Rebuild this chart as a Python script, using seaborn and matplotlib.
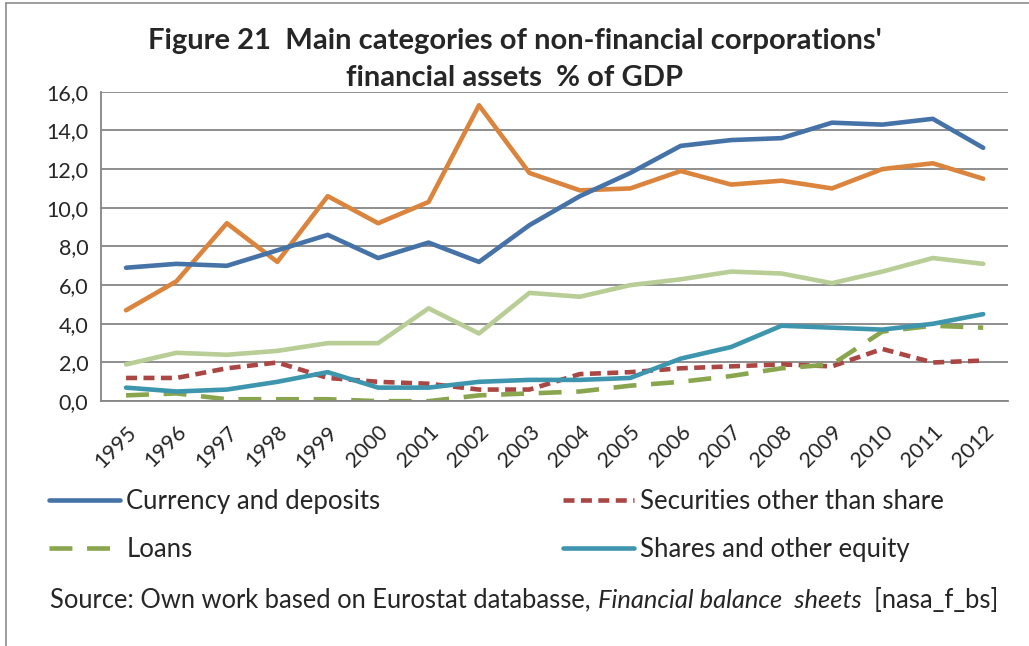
import numpy as np
import pandas as pd
import matplotlib
matplotlib.use("Agg")
import matplotlib.pyplot as plt
from matplotlib.lines import Line2D
import seaborn as sns

### values (% of GDP)
years = [str(y) for y in range(1995, 2013)]
currency = [6.9, 7.1, 7.0, 7.8, 8.6, 7.4, 8.2, 7.2, 9.1, 10.6, 11.8, 13.2, 13.5, 13.6, 14.4, 14.3, 14.6, 13.1]
other_orange = [4.7, 6.2, 9.2, 7.2, 10.6, 9.2, 10.3, 15.3, 11.8, 10.9, 11.0, 11.9, 11.2, 11.4, 11.0, 12.0, 12.3, 11.5]
other_green = [1.9, 2.5, 2.4, 2.6, 3.0, 3.0, 4.8, 3.5, 5.6, 5.4, 6.0, 6.3, 6.7, 6.6, 6.1, 6.7, 7.4, 7.1]
securities = [1.2, 1.2, 1.7, 2.0, 1.2, 1.0, 0.9, 0.6, 0.6, 1.4, 1.5, 1.7, 1.8, 1.9, 1.8, 2.7, 2.0, 2.1]
loans = [0.3, 0.4, 0.1, 0.1, 0.1, 0.0, 0.0, 0.3, 0.4, 0.5, 0.8, 1.0, 1.3, 1.7, 1.9, 3.6, 3.9, 3.8]
shares = [0.7, 0.5, 0.6, 1.0, 1.5, 0.7, 0.7, 1.0, 1.1, 1.1, 1.2, 2.2, 2.8, 3.9, 3.8, 3.7, 4.0, 4.5]

FONT = "Lato"

sns.set_style("white")
plt.rcParams['font.family'] = [FONT, 'DejaVu Sans']

fig = plt.figure(figsize=(10.29, 6.46), dpi=100)
ax = fig.add_axes([0.098, 0.379, 0.882, 0.479])

pos = np.arange(len(years))
series = [
    (other_orange, '#DB843D', '-', None),
    (other_green, '#B9CD96', '-', None),
    (currency, '#4572A7', '-', 'Currency and deposits'),
    (securities, '#AA4643', (0, (2.4, 1.4)), 'Securities other than share'),
    (loans, '#89A54E', (0, (5, 3.2)), 'Loans'),
    (shares, '#3D96AE', '-', 'Shares and other equity'),
]
handles = {}
for vals, col, ls, lab in series:
    df = pd.DataFrame({'x': pos, 'y': vals})
    sns.lineplot(data=df, x='x', y='y', ax=ax, color=col, linewidth=3.3,
                 linestyle=ls, legend=False)
    if lab:
        handles[lab] = Line2D([], [], color=col, linewidth=3.3, linestyle=ls)

ax.set_xlim(-0.5, len(years) - 0.5)
ax.set_ylim(0, 16)
ax.set_yticks(np.arange(0, 16.1, 2))
ax.set_yticklabels([f"{v:.1f}".replace('.', ',') for v in np.arange(0, 16.1, 2)], fontsize=15.5)
ax.set_xticks(pos)
ax.set_xticklabels(years, rotation=45, fontsize=15.5, ha='right', rotation_mode='anchor')
ax.set_xticks(np.arange(-0.5, len(years), 1), minor=True)
ax.tick_params(axis='x', which='major', length=0, pad=15)
ax.tick_params(axis='x', which='minor', length=6, color='#868686', width=1.2, direction='out')
ax.tick_params(axis='y', length=6, color='#868686', width=1.2, direction='out', pad=3)
ax.grid(axis='y', color='#868686', linewidth=1.3)
ax.set_axisbelow(True)
ax.set_xlabel('')
ax.set_ylabel('')
for s in ['top', 'right']:
    ax.spines[s].set_visible(False)
for s in ['left', 'bottom']:
    ax.spines[s].set_color('#868686')
    ax.spines[s].set_linewidth(1.3)

fig.text(0.5, 0.937, "Figure 21  Main categories of non-financial corporations'",
         ha='center', va='center', fontsize=21, fontweight='bold')
fig.text(0.5, 0.880, "financial assets  % of GDP",
         ha='center', va='center', fontsize=21, fontweight='bold')

order = ['Currency and deposits', 'Loans', 'Securities other than share', 'Shares and other equity']
leg = fig.legend([handles[k] for k in order], order, ncol=2, loc='upper left',
                 bbox_to_anchor=(0.048, 0.243), frameon=False, fontsize=18.5,
                 borderpad=0, borderaxespad=0,
                 handlelength=2.75, handletextpad=0.25, columnspacing=7.1, labelspacing=0.9)

# source line with italic part
fig.canvas.draw()
r = fig.canvas.get_renderer()
parts = [("Source: Own work based on Eurostat databasse, ", 'normal'),
         ("Financial balance  sheets", 'italic'),
         ("  [nasa_f_bs]", 'normal')]
x = 0.049
for txt, st in parts:
    t = fig.text(x, 0.071, txt, fontsize=18.4, style=st, va='center', ha='left')
    bb = t.get_window_extent(renderer=r)
    x += bb.width / fig.bbox.width

# outer chart border (left and top)
fig.add_artist(Line2D([0.006, 0.006], [0.0, 0.995], color='#8C8C8C', linewidth=1.2))
fig.add_artist(Line2D([0.006, 1.0], [0.995, 0.995], color='#8C8C8C', linewidth=1.2))

fig.savefig('out.png', dpi=100)
